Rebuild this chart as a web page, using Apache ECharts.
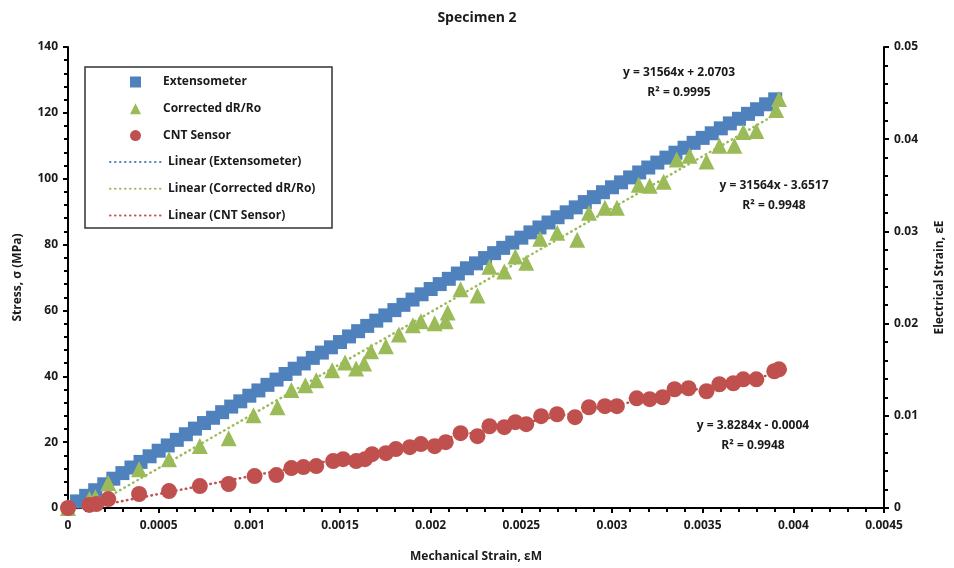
<!DOCTYPE html>
<html>
<head>
<meta charset="utf-8">
<script src="https://cdn.jsdelivr.net/npm/echarts@6/dist/echarts.min.js"></script>
<style>
  html, body { margin: 0; padding: 0; background: #fff; }
  #chart { width: 954px; height: 568px; }
</style>
</head>
<body>
<div id="chart"></div>
<script>
// mechanical strain of the extensometer samples
const extStrain = [
  0.00005, 0.0001, 0.00015, 0.0002, 0.00025, 0.0003, 0.00035, 0.0004, 0.00045, 0.0005,
  0.00055, 0.0006, 0.00065, 0.0007, 0.00075, 0.0008, 0.00085, 0.0009, 0.00095, 0.001,
  0.00105, 0.0011, 0.00115, 0.0012, 0.00125, 0.0013, 0.00135, 0.0014, 0.00145, 0.0015,
  0.00155, 0.0016, 0.00165, 0.0017, 0.00175, 0.0018, 0.00185, 0.0019, 0.00195, 0.002,
  0.00205, 0.0021, 0.00215, 0.0022, 0.00225, 0.0023, 0.00235, 0.0024, 0.00245, 0.0025,
  0.00255, 0.0026, 0.00265, 0.0027, 0.00275, 0.0028, 0.00285, 0.0029, 0.00295, 0.003,
  0.00305, 0.0031, 0.00315, 0.0032, 0.00325, 0.0033, 0.00335, 0.0034, 0.00345, 0.0035,
  0.00355, 0.0036, 0.00365, 0.0037, 0.00375, 0.0038, 0.00385, 0.0039
]
const extStress = [
  2.0, 3.7, 5.4, 7.2, 8.9, 10.6, 12.3, 14.0, 15.7, 17.4,
  19.0, 20.7, 22.4, 24.1, 25.8, 27.4, 29.1, 30.8, 32.4, 34.1,
  35.7, 37.4, 39.0, 40.7, 42.3, 43.9, 45.6, 47.2, 48.8, 50.4,
  52.1, 53.7, 55.3, 56.9, 58.5, 60.1, 61.7, 63.3, 64.9, 66.5,
  68.0, 69.6, 71.2, 72.8, 74.3, 75.9, 77.4, 79.0, 80.6, 82.1,
  83.7, 85.2, 86.7, 88.3, 89.8, 91.3, 92.9, 94.4, 95.9, 97.4,
  98.9, 100.4, 101.9, 103.4, 104.9, 106.4, 107.9, 109.4, 110.9, 112.4,
  113.8, 115.3, 116.8, 118.2, 119.7, 121.1, 122.6, 124.1
]

// corrected dR/Ro (left axis)
const corrStrain = [
  0, 0.000118, 0.000151, 0.000222, 0.000392, 0.000557, 0.000727, 0.000886, 0.001023, 0.001155,
  0.001232, 0.001309, 0.001369, 0.001457, 0.001528, 0.001589, 0.001633, 0.001671, 0.001753, 0.001825,
  0.001902, 0.001946, 0.002022, 0.002083, 0.002094, 0.002165, 0.002258, 0.002324, 0.002406, 0.002467,
  0.002527, 0.002604, 0.002698, 0.002808, 0.002873, 0.002961, 0.003027, 0.003148, 0.003208, 0.003285,
  0.003357, 0.003428, 0.003521, 0.003592, 0.003675, 0.003724, 0.003796, 0.003905, 0.003921
]
const corrStress = [
  0, 2.7, 3.3, 7.6, 11.8, 14.8, 18.8, 21.2, 28.2, 30.6,
  35.8, 37.3, 38.8, 41.8, 44.2, 42.4, 43.9, 47.6, 49.1, 52.7,
  55.5, 56.7, 56.1, 56.7, 59.4, 66.4, 64.5, 73.3, 71.8, 76.4,
  74.5, 81.8, 83.6, 81.5, 89.7, 91.2, 91.2, 98.2, 97.9, 99.1,
  105.8, 107.0, 105.2, 110.0, 110.0, 114.2, 114.5, 120.9, 124.2
]

// CNT sensor electrical strain (right axis)
const cntStrain = [
  0, 0.000118, 0.000156, 0.000222, 0.000392, 0.000557, 0.000727, 0.000886, 0.001029, 0.001149,
  0.001232, 0.001298, 0.001369, 0.001462, 0.001517, 0.001589, 0.001638, 0.001677, 0.001753, 0.001808,
  0.001885, 0.001946, 0.002022, 0.002083, 0.002165, 0.002258, 0.002324, 0.002406, 0.002467, 0.002527,
  0.002609, 0.002697, 0.002796, 0.002873, 0.002961, 0.003027, 0.003136, 0.003208, 0.003279, 0.003345,
  0.003422, 0.003521, 0.003592, 0.003669, 0.003724, 0.003796, 0.003895, 0.003921
]
const cntElec = [
  0, 0.00033, 0.00043, 0.00097, 0.00152, 0.00184, 0.00238, 0.0026, 0.00346, 0.00357,
  0.00433, 0.00444, 0.00455, 0.00509, 0.0053, 0.00509, 0.0053, 0.00584, 0.00595, 0.00639,
  0.0066, 0.00693, 0.00671, 0.00714, 0.00812, 0.00779, 0.00887, 0.00877, 0.00931, 0.00909,
  0.00996, 0.01017, 0.00985, 0.01093, 0.01104, 0.01104, 0.0119, 0.0118, 0.01201, 0.01288,
  0.01299, 0.01266, 0.01342, 0.01353, 0.01396, 0.01396, 0.01483, 0.01504
]

// trendlines as printed on the chart
const trendNames = ['Linear (Extensometer)', 'Linear (Corrected dR/Ro)', 'Linear (CNT Sensor)']
const trendSlope = [31564, 31564, 3.8284]
const trendIntercept = [2.0703, -3.6517, -0.0004]
const trendRange = [0, 0.00392]
const trendLabels = [
  ['y = 31564x + 2.0703', 'R² = 0.9995'],
  ['y = 31564x - 3.6517', 'R² = 0.9948'],
  ['y = 3.8284x - 0.0004', 'R² = 0.9948'],
]

const colors = ['#4F81BD', '#9BBB59', '#C0504D']
const font = '"Open Sans", "Noto Sans", sans-serif'
const ink = '#1a1a1a'

const chart = echarts.init(document.getElementById('chart'), null, { renderer: 'canvas' })

const zip = (xs, ys) => xs.map((x, i) => [x, ys[i]])
const trendData = i => trendRange.map(x => [x, trendSlope[i] * x + trendIntercept[i]])

const trendSeries = trendNames.map((name, i) => ({
  name,
  type: 'line',
  yAxisIndex: i === 2 ? 1 : 0,
  data: trendData(i),
  symbol: 'none',
  clip: true,
  z: 1,
  lineStyle: { color: colors[i], width: 2.5, type: [0.5, 4.5], cap: 'round' },
  itemStyle: { color: colors[i] },
}))

const labelText = (lines, x, y) => lines.map((t, k) => ({
  type: 'text',
  x, y: y + k * 20,
  style: { text: t, font: 'bold 12px ' + font, fill: ink, align: 'center', verticalAlign: 'middle' },
}))

chart.setOption({
  animation: false,
  title: {
    text: 'Specimen 2',
    left: 'center',
    top: 6,
    textStyle: { fontFamily: font, fontSize: 14, fontWeight: 'bold', color: ink },
  },
  grid: { left: 68, right: 66, top: 47, bottom: 59 },
  legend: [
    {
      data: ['Extensometer', 'Corrected dR/Ro', 'CNT Sensor'],
      orient: 'vertical',
      left: 125, top: 70,
      itemWidth: 11, itemHeight: 11, itemGap: 12.8,
      selectedMode: false,
      textStyle: { fontFamily: font, fontSize: 12, fontWeight: 'bold', color: ink, lineHeight: 14, padding: [0, 0, 0, 17] },
    },
    {
      data: trendNames,
      orient: 'vertical',
      left: 104, top: 150,
      itemWidth: 53, itemHeight: 14, itemGap: 12.8,
      selectedMode: false,
      itemStyle: { opacity: 0 },
      textStyle: { fontFamily: font, fontSize: 12, fontWeight: 'bold', color: ink, lineHeight: 14 },
    },
  ],
  xAxis: {
    type: 'value',
    min: 0, max: 0.0045, interval: 0.0005,
    name: 'Mechanical Strain, εM',
    nameLocation: 'middle',
    nameGap: 43,
    nameTextStyle: { fontFamily: font, fontSize: 12, fontWeight: 'bold', color: ink },
    axisLine: { lineStyle: { color: '#000', width: 2 } },
    axisTick: { show: true, length: 5, lineStyle: { color: '#000', width: 2 } },
    minorTick: { show: true, splitNumber: 5, length: 4, lineStyle: { color: '#000', width: 2 } },
    splitLine: { show: false },
    axisLabel: {
      fontFamily: font, fontSize: 12, fontWeight: 'bold', color: ink, margin: 12,
      formatter: v => String(parseFloat(v.toFixed(4))),
    },
  },
  yAxis: [
    {
      type: 'value',
      min: 0, max: 140, interval: 20,
      name: 'Stress, σ (MPa)',
      nameLocation: 'middle',
      nameGap: 44,
      nameTextStyle: { fontFamily: font, fontSize: 12, fontWeight: 'bold', color: ink },
      axisLine: { show: true, lineStyle: { color: '#000', width: 2 } },
      axisTick: { show: true, length: 5, lineStyle: { color: '#000', width: 2 } },
      minorTick: { show: true, splitNumber: 5, length: 4, lineStyle: { color: '#000', width: 2 } },
      splitLine: { show: false },
      axisLabel: { fontFamily: font, fontSize: 12, fontWeight: 'bold', color: ink, margin: 10 },
    },
    {
      type: 'value',
      min: 0, max: 0.05, interval: 0.01,
      name: 'Electrical Strain, εE',
      nameLocation: 'middle',
      nameGap: 50,
      nameRotate: 90,
      nameTextStyle: { fontFamily: font, fontSize: 12, fontWeight: 'bold', color: ink },
      axisLine: { show: true, lineStyle: { color: '#000', width: 2 } },
      axisTick: { show: true, length: 5, lineStyle: { color: '#000', width: 2 } },
      minorTick: { show: true, splitNumber: 5, length: 4, lineStyle: { color: '#000', width: 2 } },
      splitLine: { show: false },
      axisLabel: {
        fontFamily: font, fontSize: 12, fontWeight: 'bold', color: ink, margin: 10,
        formatter: v => String(parseFloat(v.toFixed(3))),
      },
    },
  ],
  graphic: [
    {
      type: 'rect',
      shape: { x: 85, y: 67, width: 247, height: 161 },
      style: { fill: 'none', stroke: '#333', lineWidth: 1.5 },
      z: 100,
    },
    ...labelText(trendLabels[0], 679, 73),
    ...labelText(trendLabels[1], 774, 186),
    ...labelText(trendLabels[2], 753, 426),
  ],
  series: [
    ...trendSeries,
    {
      name: 'Extensometer',
      type: 'scatter',
      data: zip(extStrain, extStress),
      symbol: 'rect',
      symbolSize: 14,
      z: 2,
      itemStyle: { color: colors[0], opacity: 1 },
    },
    {
      name: 'Corrected dR/Ro',
      type: 'scatter',
      data: zip(corrStrain, corrStress),
      symbol: 'triangle',
      symbolSize: 16,
      z: 3,
      itemStyle: { color: colors[1], opacity: 1 },
    },
    {
      name: 'CNT Sensor',
      type: 'scatter',
      yAxisIndex: 1,
      data: zip(cntStrain, cntElec),
      symbol: 'circle',
      symbolSize: 16,
      z: 4,
      itemStyle: { color: colors[2], opacity: 1 },
    },
  ],
})

window.addEventListener('resize', () => chart.resize())
</script>
</body>
</html>
